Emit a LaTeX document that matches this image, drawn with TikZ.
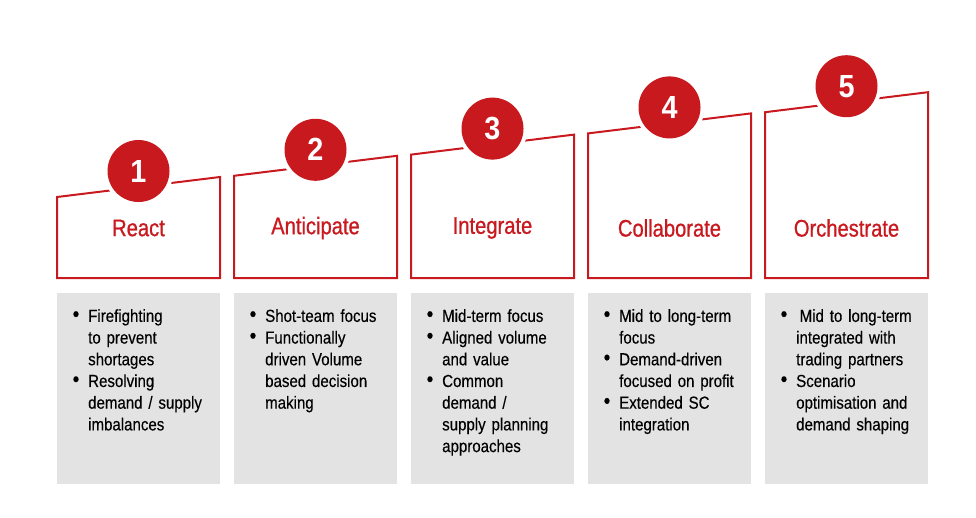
\documentclass[tikz,border=0pt]{standalone}
\usepackage{fontspec}
\setmainfont[FakeStretch=0.86,FakeBold=0.25]{Liberation Sans}
\newfontfamily\numfont[FakeStretch=0.9]{Liberation Sans}
\newfontfamily\titlefont[FakeStretch=0.84,FakeBold=0.8]{Liberation Sans}
\definecolor{stepred}{HTML}{C8191F}
\definecolor{panelgray}{HTML}{E3E3E3}
\newcommand{\nl}{\newline}
\newcommand{\bitem}[1]{\noindent\hangindent=16pt\hangafter=1\makebox[16pt][l]{\hspace{0.5pt}\raisebox{0.5pt}{\scalebox{1.25}{\textbullet}}}#1\par}
\tikzset{
  stepframe/.style={draw=stepred, line width=2pt},
  badge/.style={circle, fill=stepred, inner sep=0pt, minimum size=62pt, text=white, font=\numfont\bfseries\fontsize{32}{32}\selectfont},
  badgegap/.style={circle, fill=white, inner sep=0pt, minimum size=70pt},
  titletext/.style={text=stepred, font=\titlefont\fontsize{24}{24}\selectfont},
  panel/.style={fill=panelgray, draw=none},
  paneltext/.style={anchor=north west, inner sep=0pt, text width=150pt, font=\fontsize{17.5}{21.7}\selectfont\raggedright, text=black}
}
\begin{document}
\begin{tikzpicture}[x=1pt,y=-1pt]
\useasboundingbox (0,0) rectangle (976,517);
\foreach \i/\num/\ttl in {0/1/React,1/2/Anticipate,2/3/Integrate,3/4/Collaborate,4/5/Orchestrate}{
  \pgfmathsetmacro{\xl}{57+177*\i}
  \pgfmathsetmacro{\xr}{\xl+163}
  \pgfmathsetmacro{\xc}{\xl+81.5}
  \pgfmathsetmacro{\ytl}{197-21.2*\i}
  \pgfmathsetmacro{\ytr}{177-21.2*\i}
  \pgfmathsetmacro{\yc}{171-21.2*\i}
  \coordinate (tl\num) at (\xl,\ytl);
  \coordinate (tr\num) at (\xr,\ytr);
  \coordinate (bl\num) at (\xl,278);
  \coordinate (br\num) at (\xr,278);
  \draw[stepframe] (tl\num) -- (bl\num) -- (br\num) -- (tr\num) -- cycle;
  \node[badgegap] (gap\num) at (\xc,\yc) {};
  \node[badge] (badge\num) at (\xc,\yc) {\num};
  \node[titletext] (title\num) at (\xc,228) {\ttl};
  \fill[panel] (\xl,293) rectangle (\xr,484);
}
\node[paneltext] (text1) at (72,309) {\bitem{Firefighting\nl to prevent\nl shortages}\bitem{Resolving\nl demand / supply\nl imbalances}};
\node[paneltext] (text2) at (249,309) {\bitem{Shot-team focus}\bitem{Functionally\nl driven Volume\nl based decision\nl making}};
\node[paneltext] (text3) at (426,309) {\bitem{Mid-term focus}\bitem{Aligned volume\nl and value}\bitem{Common\nl demand /\nl supply planning\nl approaches}};
\node[paneltext] (text4) at (603,309) {\bitem{Mid to long-term\nl focus}\bitem{Demand-driven\nl focused on profit}\bitem{Extended SC\nl integration}};
\node[paneltext] (text5) at (780,309) {\bitem{\hspace{3.5pt}Mid to long-term\nl integrated with\nl trading partners}\bitem{Scenario\nl optimisation and\nl demand shaping}};
\end{tikzpicture}
\end{document}
